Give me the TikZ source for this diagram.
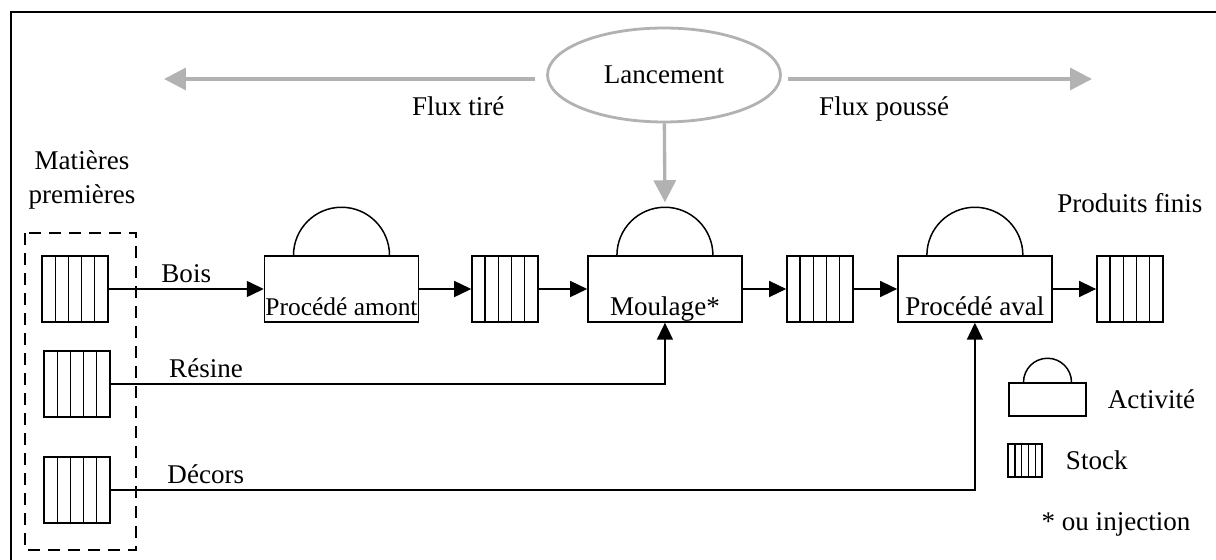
\documentclass[tikz,border=0pt]{standalone}
\usepackage{fontspec}
\setmainfont{Liberation Serif}
\usepackage{tikz}
\usetikzlibrary{shapes.geometric, arrows.meta, positioning, calc}
\tikzstyle{stock} = [rectangle,
minimum width=1.32cm,
minimum height=1.32cm,
inner sep=0pt,
draw=black, line width=0.85pt,
path picture={\foreach \i in {1,...,4}
  \draw [line width=0.8pt] ($(path picture bounding box.north west)!\i/5!(path picture bounding box.north east)$)
    -- ($(path picture bounding box.south west)!\i/5!(path picture bounding box.south east)$);}]
\tikzstyle{activite} = [rectangle,
minimum width=3.08cm,
minimum height=1.32cm,
inner sep=0pt,
draw=black, line width=0.85pt]
\tikzstyle{lancement} = [ellipse,
minimum width=4.66cm,
minimum height=1.88cm,
draw=black!30, line width=1.6pt]
\tikzstyle{arrow} = [line width=0.85pt, -{Triangle[length=0.34cm, width=0.32cm]}]
\tikzstyle{grisarrow} = [draw=black!30, line width=1.9pt, -{Triangle[length=0.44cm, width=0.44cm]}]

\begin{document}
\begin{tikzpicture}[x=0.02cm, y=-0.02cm, node distance=3.1cm, font=\fontsize{15.4}{19}\selectfont]
            \useasboundingbox (0,0) rectangle (1216,560);
            \draw [line width=0.85pt] (11,560) |- (1216,12);

            % pilotage
            \node (lancement) [lancement] at (664,75) {Lancement};
            \coordinate (tire) at (164,79);
            \coordinate (pousse) at (1092,79);

            % matieres premieres
            \node (mptext) [align=center] at (82,180) {Matières\\premières};
            \node (mp1) [stock] at (75,289) {};
            \node (mp2) [stock] at (77,384) {};
            \node (mp3) [stock] at (77,490) {};
            \draw [line width=1.1pt, dash pattern=on 0.24cm off 0.16cm] (25,233) rectangle (136,550);

            % chaine
            \node (amont) [activite, label={[anchor=base, yshift=0.14cm, font=\fontsize{14.5}{17}\selectfont]south:Procédé amont}] at (341.5,289) {};
            \node (stock2) [stock, right of=amont, node distance=3.27cm] {};
            \node (moulage) [activite, label={[anchor=base, yshift=0.14cm]south:Moulage*}, right of=stock2, node distance=3.2cm] {};
            \node (stock3) [stock, right of=moulage] {};
            \node (aval) [activite, label={[anchor=base, yshift=0.14cm]south:Procédé aval}, right of=stock3] {};
            \node (stock4) [stock, right of=aval] {};
            \node (pf) [above of=stock4, node distance=1.72cm] {Produits finis};
            \foreach \n in {amont,moulage,aval}
                \draw [line width=0.85pt] (\n.north) ++(-48,0) arc[start angle=180, end angle=0, radius=0.96cm];
            \coordinate (moulagetop) at ($(moulage.north)+(0,-53)$);

            % legende
            \node (legact) [activite, minimum width=1.54cm, minimum height=0.66cm] at (1047.5,399.5) {};
            \draw [line width=0.85pt] (legact.north) ++(-24,0) arc[start angle=180, end angle=0, radius=0.48cm];
            \node (legacttxt) [right=0.3cm of legact] {Activité};
            \node (legstock) [stock, minimum width=0.68cm, minimum height=0.66cm] at (1025,460.5) {};
            \node (legstocktxt) [right=0.34cm of legstock] {Stock};
            \node (ouinj) at (1116,524) {* ou injection};

            \draw [grisarrow, shorten <=0.22cm] (lancement.west |- tire) -- node[pos=0.23, below=0.2cm, text=black] {Flux tiré} (tire);
            \draw [grisarrow, shorten <=0.12cm] (lancement.east |- pousse) -- node[pos=0.33, below=0.2cm, text=black] {Flux poussé} (pousse);
            \draw [grisarrow] (lancement) -- (moulagetop);

            \draw [arrow] (mp1) -- node[above] {Bois} (amont);
            \draw [arrow] (amont) -- (stock2);
            \draw [arrow] (stock2) -- (moulage);
            \draw [arrow] (moulage) -- (stock3);
            \draw [arrow] (stock3) -- (aval);
            \draw [arrow] (aval) -- (stock4);
            \draw [arrow] (mp2) -| node[above, pos=0.086] {Résine} (moulage);
            \draw [arrow] (mp3) -| node[above, pos=0.055] {Décors} (aval);
        \end{tikzpicture}
\end{document}
